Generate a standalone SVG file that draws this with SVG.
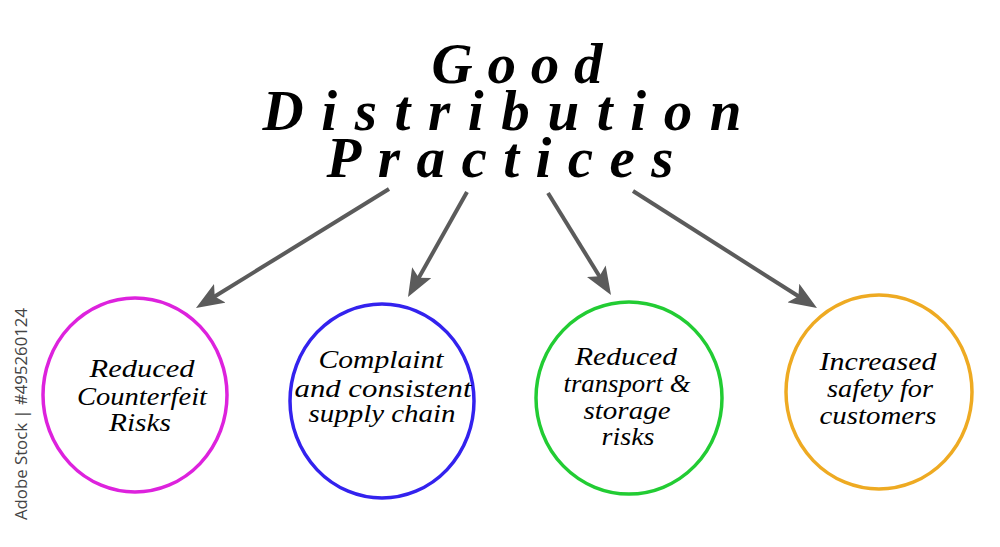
<svg xmlns="http://www.w3.org/2000/svg" width="1000" height="547" viewBox="0 0 1000 547">
<style>
.title{font-family:"Liberation Serif","DejaVu Serif",serif;font-style:italic;font-weight:bold;font-size:57px;fill:#000;text-anchor:middle}
.lbl{font-family:"Liberation Serif","DejaVu Serif",serif;font-style:italic;font-size:25px;fill:#000;text-anchor:middle}
.node{fill:#fff;stroke-width:3.5}
.conn{stroke:#5b5b5b;stroke-width:4;fill:none;marker-end:url(#ah)}
.wm{font-family:"Open Sans","Noto Sans",sans-serif;font-size:17px;fill:#444}
</style>
<defs>
<marker id="ah" viewBox="0 0 28 22" refX="8" refY="11" markerWidth="28" markerHeight="22" markerUnits="userSpaceOnUse" orient="auto">
<path d="M0,0 L28,11 L0,22 L6,11 Z" fill="#5b5b5b"/>
</marker>
</defs>
<rect width="1000" height="547" fill="#fff"/>
<g id="title">
<text class="title" x="517" y="83" textLength="171" lengthAdjust="spacing">Good</text>
<text class="title" x="502" y="130" textLength="479" lengthAdjust="spacing">Distribution</text>
<text class="title" x="500" y="177" textLength="347" lengthAdjust="spacing">Practices</text>
</g>
<g id="connectors">
<line class="conn" x1="389" y1="189" x2="213" y2="297.5"/>
<line class="conn" x1="467" y1="192" x2="417.8" y2="279.6"/>
<line class="conn" x1="548" y1="193" x2="600.5" y2="278"/>
<line class="conn" x1="633" y1="191" x2="800.1" y2="297.3"/>
</g>
<g id="node1">
<ellipse class="node" cx="135" cy="395" rx="92" ry="97" stroke="#dd22dd"/>
<text class="lbl" x="142" y="377" textLength="105" lengthAdjust="spacingAndGlyphs">Reduced</text>
<text class="lbl" x="142" y="405" textLength="130" lengthAdjust="spacingAndGlyphs">Counterfeit</text>
<text class="lbl" x="140" y="431" textLength="62" lengthAdjust="spacingAndGlyphs">Risks</text>
</g>
<g id="node2">
<ellipse class="node" cx="382" cy="401" rx="92" ry="97" stroke="#3322ee"/>
<text class="lbl" x="381" y="368" textLength="125" lengthAdjust="spacingAndGlyphs">Complaint</text>
<text class="lbl" x="383" y="397" textLength="177" lengthAdjust="spacingAndGlyphs">and consistent</text>
<text class="lbl" x="382" y="422" textLength="147" lengthAdjust="spacingAndGlyphs">supply chain</text>
</g>
<g id="node3">
<ellipse class="node" cx="629" cy="398" rx="93" ry="96" stroke="#22cc33"/>
<text class="lbl" x="626" y="365" textLength="102" lengthAdjust="spacingAndGlyphs">Reduced</text>
<text class="lbl" x="627" y="392" textLength="127" lengthAdjust="spacingAndGlyphs">transport &amp;</text>
<text class="lbl" x="627" y="419" textLength="87" lengthAdjust="spacingAndGlyphs">storage</text>
<text class="lbl" x="628" y="445" textLength="53" lengthAdjust="spacingAndGlyphs">risks</text>
</g>
<g id="node4">
<ellipse class="node" cx="879" cy="392" rx="93" ry="97" stroke="#eeaa22"/>
<text class="lbl" x="878" y="370" textLength="117" lengthAdjust="spacingAndGlyphs">Increased</text>
<text class="lbl" x="880" y="397" textLength="106" lengthAdjust="spacingAndGlyphs">safety for</text>
<text class="lbl" x="878" y="424" textLength="117" lengthAdjust="spacingAndGlyphs">customers</text>
</g>
<text class="wm" transform="translate(27,414) rotate(-90)" text-anchor="middle" textLength="212" lengthAdjust="spacingAndGlyphs">Adobe Stock | #495260124</text>
</svg>
